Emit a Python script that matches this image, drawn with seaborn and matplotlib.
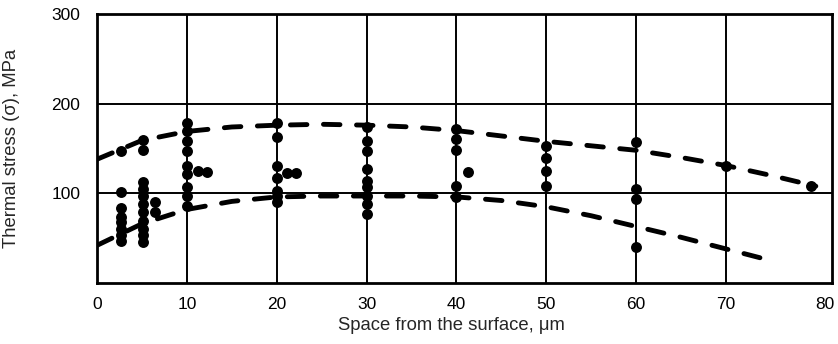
import matplotlib
matplotlib.use("Agg")
import matplotlib.pyplot as plt
import matplotlib.transforms as mtrans
import seaborn as sns
import pandas as pd

# measured points
pt_x = [2.7]*8 + [5.1]*11 + [6.4]*2 + [10]*9 + [11.2, 12.2] + [20]*7 + [21.2, 22.2] \
       + [30]*9 + [40]*5 + [41.3] + [50]*4 + [60]*4 + [70, 79.5]
pt_y = [147, 101, 84, 74, 68, 60, 53, 47,
        159, 148, 113, 105, 97, 88, 79, 69, 60, 53, 46,
        90, 79,
        178, 169, 158, 147, 130, 122, 107, 97, 86,
        125, 124,
        178, 163, 131, 117, 103, 97, 90,
        123, 123,
        174, 158, 147, 127, 114, 107, 97, 88, 77,
        172, 161, 148, 108, 96,
        124,
        153, 139, 125, 108,
        157, 105, 94, 40,
        131, 108]

# upper envelope (dashed)
up_x = [0, 5, 10, 15, 20, 25, 30, 35, 40, 45, 50, 55, 60, 65, 70, 75, 80]
up_y = [138, 159, 169, 174, 176, 177, 176, 174, 170, 164, 158, 153, 148, 140, 131, 120, 108]
# lower envelope (dashed)
lo_x = [0, 5, 10, 15, 20, 25, 30, 35, 40, 45, 50, 55, 60, 65, 70, 75]
lo_y = [42, 66, 82, 91, 96, 97, 97, 97, 96, 92, 85, 75, 63, 51, 38, 25]

x_ticks = [0, 10, 20, 30, 40, 50, 60, 70, 80]
y_ticks = [100, 200, 300]

sns.set_style("white")
plt.rcParams['font.family'] = ['Liberation Sans', 'DejaVu Sans']

fig = plt.figure(figsize=(8.38, 3.44), dpi=100)
ax = fig.add_axes([97/838, 1-283/344, (832-97)/838, (283-14)/344])

pts = pd.DataFrame({"x": pt_x, "y": pt_y})
up = pd.DataFrame({"x": up_x, "y": up_y})
lo = pd.DataFrame({"x": lo_x, "y": lo_y})

for d in (up, lo):
    sns.lineplot(data=d, x="x", y="y", ax=ax, color="black", lw=3.5, zorder=3)
for ln in ax.lines:
    ln.set_dashes((3.4, 3.4))
    ln.set_dash_capstyle("round")

sns.scatterplot(data=pts, x="x", y="y", ax=ax, color="black", s=62,
                edgecolor="black", linewidth=0, zorder=4)

ax.set_xlim(0, 81.8)
ax.set_ylim(0, 300)
ax.set_xticks(x_ticks)
ax.set_yticks(y_ticks)
ax.set_xticklabels([str(v) for v in x_ticks], fontsize=12.5)
ax.set_yticklabels([str(v) for v in y_ticks], fontsize=12.5)
ax.tick_params(axis="x", length=0, pad=10, colors="black")
ax.tick_params(axis="y", length=0, pad=12, colors="black")
ax.grid(True, color="black", lw=1.4)
ax.xaxis.get_gridlines()[-1].set_visible(False)
last = ax.get_xticklabels()[-1]
last.set_transform(last.get_transform() + mtrans.ScaledTranslation(0.09, 0, fig.dpi_scale_trans))
for s in ax.spines.values():
    s.set_visible(True)
    s.set_color("black")
    s.set_linewidth(2.0)

ax.set_xlabel("Space from the surface, μm", fontsize=13.3)
ax.set_ylabel("Thermal stress (σ), MPa", fontsize=13.3)
ax.xaxis.set_label_coords(0.482, -0.125)
ax.yaxis.set_label_coords(-0.105, 0.5)

fig.savefig("out.png", dpi=100)
